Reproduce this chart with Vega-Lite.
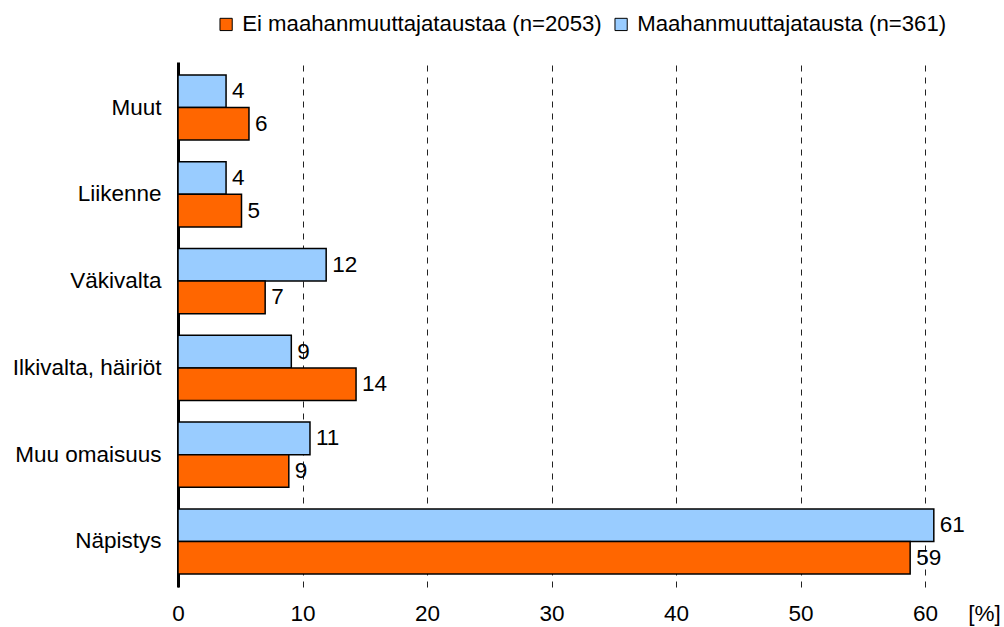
{
  "$schema": "https://vega.github.io/schema/vega-lite/v6.json",
  "width": 772,
  "height": 525,
  "autosize": "none",
  "padding": {"left": 178, "top": 62, "right": 54, "bottom": 40},
  "background": "white",
  "config": {
    "font": "Liberation Sans",
    "view": {"stroke": null}
  },
  "data": {
    "values": [
      {"category": "Muut", "group": "Maahanmuuttajatausta (n=361)", "value": 3.86},
      {"category": "Muut", "group": "Ei maahanmuuttajataustaa (n=2053)", "value": 5.7},
      {"category": "Liikenne", "group": "Maahanmuuttajatausta (n=361)", "value": 3.86},
      {"category": "Liikenne", "group": "Ei maahanmuuttajataustaa (n=2053)", "value": 5.1},
      {"category": "Väkivalta", "group": "Maahanmuuttajatausta (n=361)", "value": 11.9},
      {"category": "Väkivalta", "group": "Ei maahanmuuttajataustaa (n=2053)", "value": 7.0},
      {"category": "Ilkivalta, häiriöt", "group": "Maahanmuuttajatausta (n=361)", "value": 9.1},
      {"category": "Ilkivalta, häiriöt", "group": "Ei maahanmuuttajataustaa (n=2053)", "value": 14.3},
      {"category": "Muu omaisuus", "group": "Maahanmuuttajatausta (n=361)", "value": 10.6},
      {"category": "Muu omaisuus", "group": "Ei maahanmuuttajataustaa (n=2053)", "value": 8.9},
      {"category": "Näpistys", "group": "Maahanmuuttajatausta (n=361)", "value": 60.7},
      {"category": "Näpistys", "group": "Ei maahanmuuttajataustaa (n=2053)", "value": 58.8}
    ]
  },
  "encoding": {
    "y": {
      "field": "category",
      "type": "nominal",
      "sort": ["Muut", "Liikenne", "Väkivalta", "Ilkivalta, häiriöt", "Muu omaisuus", "Näpistys"],
      "scale": {"paddingInner": 0.25, "paddingOuter": 0.15},
      "axis": {
        "title": null,
        "ticks": false,
        "labelPadding": 17,
        "labelFontSize": 22.5,
        "labelColor": "black",
        "labelLimit": 300,
        "domainColor": "black",
        "domainWidth": 3,
        "grid": false
      }
    },
    "yOffset": {
      "field": "group",
      "type": "nominal",
      "sort": ["Maahanmuuttajatausta (n=361)", "Ei maahanmuuttajataustaa (n=2053)"]
    },
    "x": {
      "field": "value",
      "type": "quantitative",
      "scale": {"domain": [0, 62], "nice": false},
      "axis": {
        "values": [0, 10, 20, 30, 40, 50, 60],
        "title": "[%]",
        "titleFontSize": 22.5,
        "titleFontWeight": "normal",
        "titleColor": "black",
        "titleX": 806,
        "titleY": 26,
        "titleAlign": "center",
        "titleBaseline": "middle",
        "domain": false,
        "ticks": false,
        "labelFontSize": 22.5,
        "labelColor": "black",
        "labelBaseline": "middle",
        "labelPadding": 26,
        "labelFlush": false,
        "grid": true,
        "gridDash": [6, 6],
        "gridColor": "#222",
        "gridWidth": 1
      }
    }
  },
  "layer": [
    {
      "mark": {"type": "bar", "stroke": "black", "strokeWidth": 1.5},
      "encoding": {
        "color": {
          "field": "group",
          "type": "nominal",
          "scale": {
            "domain": ["Ei maahanmuuttajataustaa (n=2053)", "Maahanmuuttajatausta (n=361)"],
            "range": ["#FF6600", "#99CCFF"]
          },
          "legend": {
            "title": null,
            "orient": "none",
            "direction": "horizontal",
            "legendX": 37,
            "legendY": -49,
            "padding": 0,
            "symbolType": "square",
            "symbolSize": 150,
            "symbolStrokeColor": "black",
            "symbolStrokeWidth": 1,
            "symbolOpacity": 1,
            "labelFontSize": 22.2,
            "labelColor": "black",
            "labelOffset": 5,
            "columnPadding": 8,
            "labelLimit": 500
          }
        }
      }
    },
    {
      "mark": {"type": "text", "align": "left", "baseline": "middle", "dx": 6, "fontSize": 22.5, "color": "black"},
      "encoding": {
        "text": {"field": "value", "type": "quantitative", "format": ".0f"}
      }
    }
  ]
}
